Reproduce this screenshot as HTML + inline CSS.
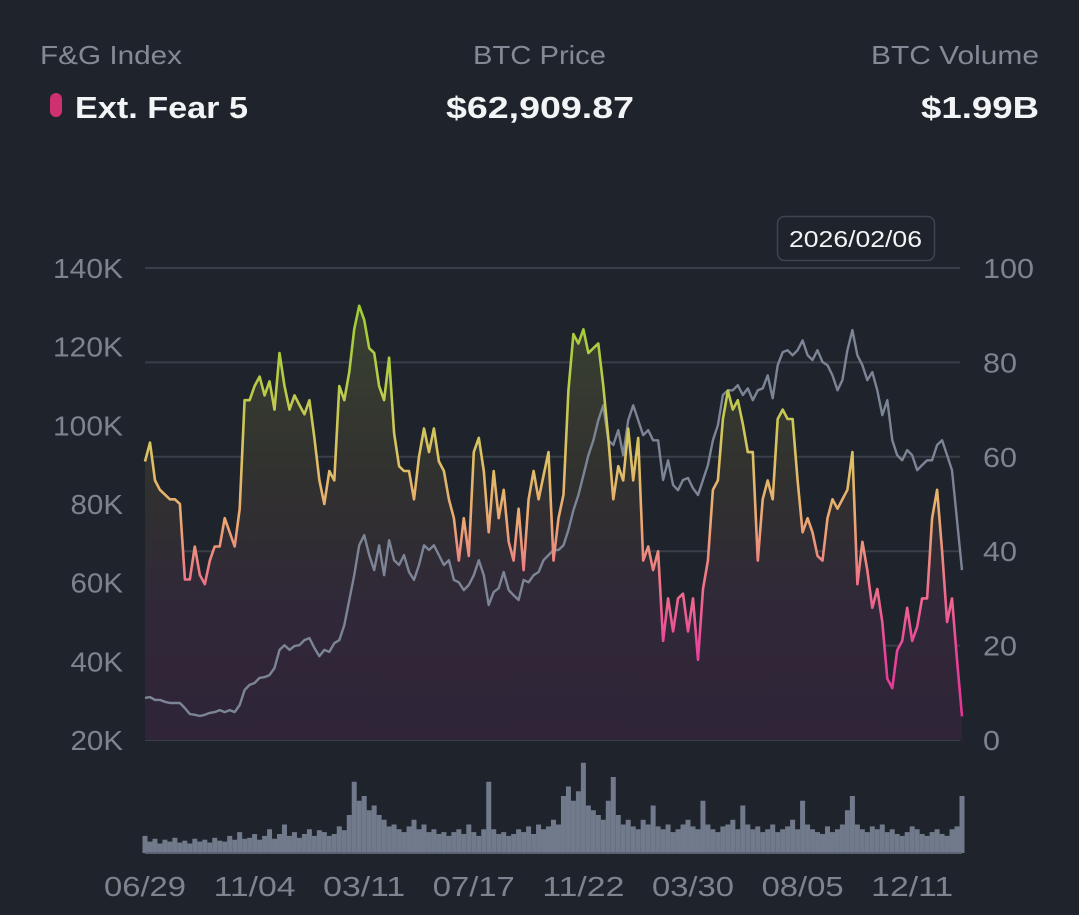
<!DOCTYPE html>
<html><head><meta charset="utf-8"><style>
html,body{margin:0;padding:0;background:#1f232c;}
svg{display:block;font-family:"Liberation Sans",sans-serif;}
</style></head><body>
<svg id="chart" width="1079" height="915" viewBox="0 0 1079 915" xmlns="http://www.w3.org/2000/svg">
<defs>
<linearGradient id="strokeGrad" gradientUnits="userSpaceOnUse" x1="0" y1="300" x2="0" y2="740">
<stop offset="0" stop-color="#9ccd34"/>
<stop offset="0.2" stop-color="#b9cc48"/>
<stop offset="0.35" stop-color="#dcc263"/>
<stop offset="0.5" stop-color="#eba873"/>
<stop offset="0.65" stop-color="#ee7189"/>
<stop offset="0.8" stop-color="#e9449c"/>
<stop offset="1" stop-color="#dd2f8c"/>
</linearGradient>
<linearGradient id="fillGrad" gradientUnits="userSpaceOnUse" x1="0" y1="300" x2="0" y2="740">
<stop offset="0" stop-color="#3a4230"/>
<stop offset="0.4" stop-color="#31312f"/>
<stop offset="0.7" stop-color="#302838"/>
<stop offset="1" stop-color="#2f2438"/>
</linearGradient>
</defs>
<rect x="0" y="0" width="1079" height="915" fill="#1f232c"/>
<g>
<text x="40" y="64" font-size="26" fill="#838a96" textLength="142" lengthAdjust="spacingAndGlyphs">F&amp;G Index</text>
<rect x="50" y="93" width="12" height="24" rx="6" fill="#d0306f"/>
<text x="75" y="118" font-size="31" font-weight="bold" fill="#f3f4f6" textLength="173" lengthAdjust="spacingAndGlyphs">Ext. Fear 5</text>
<text x="473" y="64" font-size="26" fill="#838a96" textLength="133" lengthAdjust="spacingAndGlyphs">BTC Price</text>
<text x="446" y="118" font-size="31" font-weight="bold" fill="#f3f4f6" textLength="188" lengthAdjust="spacingAndGlyphs">$62,909.87</text>
<text x="871" y="64" font-size="26" fill="#838a96" textLength="168" lengthAdjust="spacingAndGlyphs">BTC Volume</text>
<text x="921" y="118" font-size="31" font-weight="bold" fill="#f3f4f6" textLength="118" lengthAdjust="spacingAndGlyphs">$1.99B</text>
</g>
<g id="grid"></g>
<g id="leftAxis"></g>
<g id="rightAxis"></g>
<g id="series"></g>
<g id="volume"></g>
<g id="xAxis"></g>
<g>
<rect x="777.5" y="216.5" width="157" height="44" rx="7" fill="#1f232c" stroke="#3e4450" stroke-width="1.5"/>
<text x="789" y="247" font-size="23" fill="#f3f4f6" textLength="133" lengthAdjust="spacingAndGlyphs">2026/02/06</text>
</g>
</svg>
<script>
const fgValues=[59,63,55,53,52,51,51,50,34,34,41,35,33,38,41,41,47,44,41,49,72,72,75,77,73,76,70,82,75,70,73,71,69,72,64,55,50,57,55,75,72,78,87,92,89,83,82,75,72,81,65,58,57,57,51,60,66,61,66,59,57,51,47,38,47,39,61,64,57,44,57,47,53,42,38,49,36,51,57,51,56,61,38,47,52,74,86,84,87,82,83,84,75,64,51,58,55,66,55,64,38,41,36,40,21,30,23,30,31,23,30,17,32,38,53,55,68,74,70,72,67,61,61,38,51,55,51,68,70,68,68,55,44,47,44,39,38,47,51,49,51,53,61,33,42,36,28,32,25,13,11,19,21,28,21,24,30,30,47,53,40,25,30,17,5];
const priceValues=[30.7,30.9,30.2,30.2,29.7,29.4,29.4,29.4,28.1,26.6,26.4,26.1,26.4,26.9,27.1,27.6,27.1,27.6,27.1,28.9,32.7,34.0,34.5,35.8,36.0,36.5,38.3,42.9,44.1,42.9,43.9,44.1,45.4,45.9,43.4,41.3,42.9,42.4,44.6,45.4,49.2,55.6,61.9,69.5,72.1,67.0,63.2,69.5,61.9,70.8,65.7,64.5,67.0,62.7,60.7,64.5,69.5,68.3,69.5,67.0,64.5,65.7,60.7,60.1,58.1,59.4,61.9,65.7,61.9,54.3,57.6,58.6,62.7,58.1,56.8,55.6,60.7,60.1,61.9,62.7,65.7,67.0,68.3,68.3,69.5,73.4,78.4,82.3,87.3,92.4,96.2,101.3,105.1,96.2,95.0,98.8,92.4,101.3,105.1,101.3,97.5,98.8,96.2,96.2,86.1,91.1,84.8,83.5,86.1,86.6,84.0,82.3,86.1,89.9,96.2,100.0,107.7,108.9,108.9,110.2,107.7,109.4,106.4,108.9,109.4,112.7,106.9,115.3,118.6,119.1,117.8,119.1,121.6,117.8,116.6,119.1,116.1,115.3,112.7,108.9,111.5,119.1,124.2,117.8,115.3,111.5,113.5,108.9,102.6,106.4,96.2,92.4,91.1,93.7,92.4,88.6,89.9,91.1,91.1,95.0,96.2,92.4,88.6,75.9,63.2];
const volumeValues=[18,12,15,10,14,12,16,11,13,10,15,12,14,11,16,13,12,18,14,22,15,16,20,14,18,25,15,20,30,18,22,16,20,25,18,24,22,18,20,28,24,40,75,55,60,45,50,40,35,28,30,25,22,28,35,25,30,22,25,20,22,18,22,25,20,30,22,18,25,75,25,20,22,18,20,25,22,28,20,30,25,28,35,30,60,70,55,65,95,50,45,40,35,55,80,40,30,35,28,25,35,30,50,28,25,30,22,25,30,35,28,25,55,30,25,22,28,30,35,25,50,30,25,28,22,25,30,22,25,28,35,25,55,30,25,22,20,28,22,25,30,45,60,30,25,22,28,25,30,22,25,20,18,22,28,25,20,18,22,25,20,18,25,28,60];
const priceTicks=[140,120,100,80,60,40,20];
const priceTickLabels=["140K","120K","100K","80K","60K","40K","20K"];
const fgTicks=[100,80,60,40,20,0];
const xTickLabels=["06/29","11/04","03/11","07/17","11/22","03/30","08/05","12/11"];
const xTickIndex=[0,22,44,66,88,110,132,154];

const NS="http://www.w3.org/2000/svg";
const X0=145,X1=962,YT=268,YB=740,VB=853,VH=95;
function xPos(i){return X0+i*(X1-X0)/(fgValues.length-1);}
function yFg(v){return YB-(v/100)*(YB-YT);}
function yPrice(p){return YB-((p-20)/120)*(YB-YT);}
function yVol(v){return VB-(v/100)*VH;}
function mk(tag,attrs,parent){const e=document.createElementNS(NS,tag);for(const k in attrs)e.setAttribute(k,attrs[k]);parent.appendChild(e);return e;}

const grid=document.getElementById('grid');
fgTicks.forEach(t=>{
  const l=mk('line',{x1:X0,x2:X1-2,y1:yFg(t),y2:yFg(t),stroke:'#393e49','stroke-width':2},grid);
  
  
});
const la=document.getElementById('leftAxis');
priceTicks.forEach((t,i)=>{
  const lab=priceTickLabels[i];
  const e=mk('text',{x:123,y:yPrice(t)+10,'font-size':28,fill:'#7d8490','text-anchor':'end',textLength:lab.length*17.5,lengthAdjust:'spacingAndGlyphs'},la);
  e.textContent=lab;
  
  
});
const ra=document.getElementById('rightAxis');
fgTicks.forEach(t=>{
  const lab=String(t);
  const e=mk('text',{x:983,y:yFg(t)+10,'font-size':28,fill:'#7d8490',textLength:lab.length*17,lengthAdjust:'spacingAndGlyphs'},ra);
  e.textContent=lab;
  
  
});
const s=document.getElementById('series');
let fgD='';fgValues.forEach((v,i)=>{fgD+=(i?'L':'M')+xPos(i).toFixed(1)+','+yFg(v).toFixed(1);});
const area=mk('path',{d:fgD+'L'+X1+','+YB+'L'+X0+','+YB+'Z',fill:'url(#fillGrad)'},s);


let pD='';priceValues.forEach((v,i)=>{pD+=(i?'L':'M')+xPos(i).toFixed(1)+','+yPrice(v).toFixed(1);});
const pl=mk('path',{d:pD,fill:'none',stroke:'#7c8596','stroke-width':2.4,'stroke-linejoin':'round'},s);


const fl=mk('path',{d:fgD,fill:'none',stroke:'url(#strokeGrad)','stroke-width':2.6,'stroke-linejoin':'round'},s);


const vg=document.getElementById('volume');
volumeValues.forEach((v,i)=>{
  const b=mk('rect',{x:xPos(i)-2.5,y:yVol(v),width:5,height:VB-yVol(v),fill:'#707a8b'},vg);
  
  
});
const base=mk('line',{x1:X0,x2:X1,y1:VB,y2:VB,stroke:'#5b6372','stroke-width':2},vg);


const xa=document.getElementById('xAxis');
xTickLabels.forEach((lab,i)=>{
  const e=mk('text',{x:xPos(xTickIndex[i]),y:896,'font-size':28,fill:'#7d8490','text-anchor':'middle',textLength:82,lengthAdjust:'spacingAndGlyphs'},xa);
  e.textContent=lab;
  
  
});
</script>
</body></html>
